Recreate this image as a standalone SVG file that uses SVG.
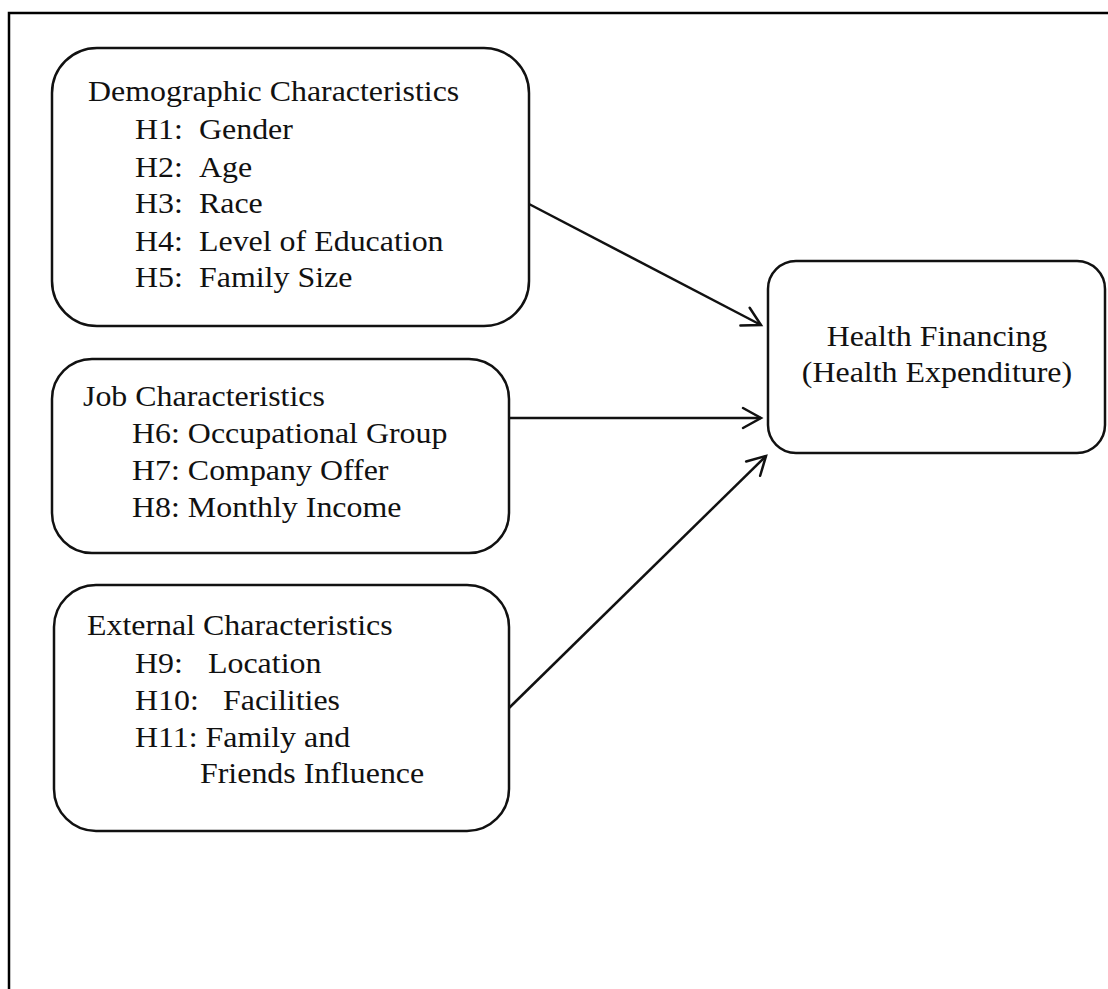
<svg xmlns="http://www.w3.org/2000/svg" width="1108" height="989" viewBox="0 0 1108 989">
  <style>
    .frame { fill: none; stroke: #000; stroke-width: 2.5; }
    .box { fill: #fff; stroke: #111; stroke-width: 2.5; }
    .conn { fill: none; stroke: #111; stroke-width: 2.5; }
    .t { font-family: "Liberation Serif", "Times New Roman", serif; font-size: 28.5px; fill: #111; }
    .c { text-anchor: middle; }
  </style>
  <defs>
    <marker id="arrow" markerUnits="userSpaceOnUse" markerWidth="30" markerHeight="30" viewBox="-22 -15 26 30" refX="0" refY="0" orient="auto">
      <path d="M-18,-10 L0,0 L-18,10" fill="none" stroke="#111" stroke-width="2.5" stroke-linecap="round" stroke-linejoin="miter"/>
    </marker>
  </defs>
  <rect width="1108" height="989" fill="#fff"/>
  <path class="frame" d="M9,989 L9,13 L1108,13"/>

  <g id="connectors">
    <line class="conn" x1="529" y1="204" x2="761" y2="325" marker-end="url(#arrow)"/>
    <line class="conn" x1="509" y1="418" x2="761" y2="418" marker-end="url(#arrow)"/>
    <line class="conn" x1="509" y1="708" x2="766" y2="456" marker-end="url(#arrow)"/>
  </g>

  <g id="demographic">
    <rect class="box" x="52" y="48" width="477" height="278" rx="45" ry="45"/>
    <text class="t" transform="matrix(1.12 0 0 1 88 101)">Demographic Characteristics</text>
    <text class="t" transform="matrix(1.12 0 0 1 135 139)">H1:</text>
    <text class="t" transform="matrix(1.12 0 0 1 199 139)">Gender</text>
    <text class="t" transform="matrix(1.12 0 0 1 135 177)">H2:</text>
    <text class="t" transform="matrix(1.12 0 0 1 199 177)">Age</text>
    <text class="t" transform="matrix(1.12 0 0 1 135 213)">H3:</text>
    <text class="t" transform="matrix(1.12 0 0 1 199 213)">Race</text>
    <text class="t" transform="matrix(1.12 0 0 1 135 251)">H4:</text>
    <text class="t" transform="matrix(1.12 0 0 1 199 251)">Level of Education</text>
    <text class="t" transform="matrix(1.12 0 0 1 135 287)">H5:</text>
    <text class="t" transform="matrix(1.12 0 0 1 199 287)">Family Size</text>
  </g>

  <g id="job">
    <rect class="box" x="52" y="359" width="457" height="194" rx="40" ry="40"/>
    <text class="t" transform="matrix(1.12 0 0 1 83 406)">Job Characteristics</text>
    <text class="t" transform="matrix(1.12 0 0 1 132 443)">H6: Occupational Group</text>
    <text class="t" transform="matrix(1.12 0 0 1 132 480)">H7: Company Offer</text>
    <text class="t" transform="matrix(1.12 0 0 1 132 517)">H8: Monthly Income</text>
  </g>

  <g id="external">
    <rect class="box" x="54" y="585" width="455" height="246" rx="42" ry="42"/>
    <text class="t" transform="matrix(1.12 0 0 1 87 635)">External Characteristics</text>
    <text class="t" transform="matrix(1.12 0 0 1 135 673)">H9:</text>
    <text class="t" transform="matrix(1.12 0 0 1 208 673)">Location</text>
    <text class="t" transform="matrix(1.12 0 0 1 135 710)">H10:</text>
    <text class="t" transform="matrix(1.12 0 0 1 223 710)">Facilities</text>
    <text class="t" transform="matrix(1.12 0 0 1 135 747)">H11: Family and</text>
    <text class="t" transform="matrix(1.12 0 0 1 200 783)">Friends Influence</text>
  </g>

  <g id="health">
    <rect class="box" x="768" y="261" width="337" height="192" rx="28" ry="28"/>
    <text class="t c" transform="matrix(1.12 0 0 1 937 346)">Health Financing</text>
    <text class="t c" transform="matrix(1.12 0 0 1 937 382)">(Health Expenditure)</text>
  </g>
</svg>
